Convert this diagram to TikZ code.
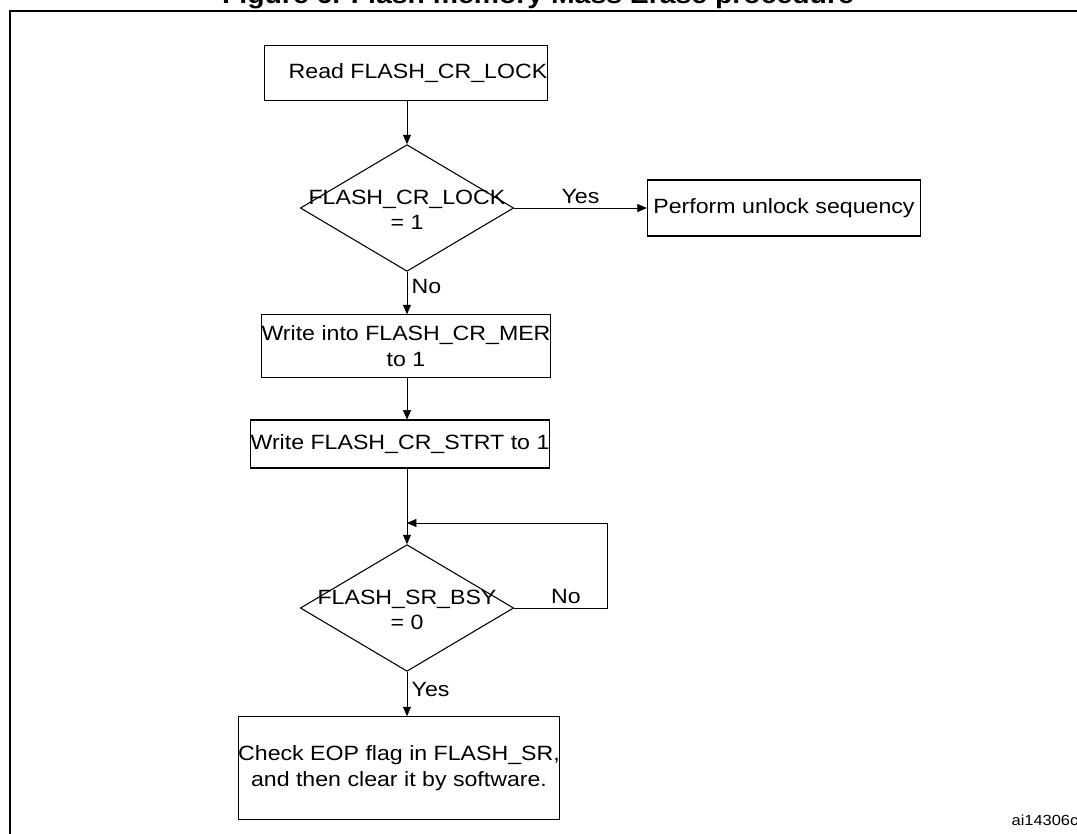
\documentclass[tikz,border=0pt]{standalone}
\usepackage{fontspec}
\setmainfont{Liberation Sans}[FakeStretch=1.12]
\usetikzlibrary{shapes.geometric, positioning, arrows.meta}
\tikzset{stepbox/.style={draw,thick,align=center,font=\fontsize{15.5}{19}\selectfont,inner sep=0pt},
         decision/.style={draw,thick,diamond,aspect=1.68,minimum width=160pt,minimum height=95pt,inner sep=0pt},
         inside/.style={align=center,font=\fontsize{15.5}{19}\selectfont,inner sep=0pt},
         flow/.style={-{Triangle[length=7pt,width=6pt]}},
         lbl/.style={font=\fontsize{15.5}{19}\selectfont},
        }
\begin{document}
\begin{tikzpicture}[x=0.75pt,y=-0.75pt]
        \useasboundingbox (0,0) rectangle (1077,833);
        \clip (0,0) rectangle (1077,833);
        \node[font=\bfseries\fontsize{19}{22}\selectfont](title)at(538,-3){Figure 6. Flash memory Mass Erase procedure};
        \draw[thick](10,11) rectangle (1080,840);
        \node[stepbox,minimum width=206pt,minimum height=41pt](read)at(406,73){\hspace{18pt}Read FLASH\_CR\_LOCK};
        \node[decision](lock)at(407,208){};
        \node[inside](locktext)at(407,210){FLASH\_CR\_LOCK\\= 1};
        \node[stepbox,minimum width=205pt,minimum height=42pt](unlock)at(784,208){Perform unlock sequency};
        \node[stepbox,minimum width=217pt,minimum height=47pt](mer)at(406,346){Write into FLASH\_CR\_MER\\to 1};
        \node[stepbox,minimum width=209pt,minimum height=36pt](strt)at(400,444){Write FLASH\_CR\_STRT to 1};
        \node[decision](bsy)at(407,608){};
        \node[inside](bsytext)at(407,610){FLASH\_SR\_BSY\\= 0};
        \node[stepbox,minimum width=211pt,minimum height=77pt](eop)at(399,768){Check EOP flag in FLASH\_SR,\\and then clear it by software.};
        \node[font=\fontsize{11}{13}\selectfont](ref)at(1045,820){ai14306c};
        \coordinate(loop)at(407,523);

        \draw[flow](read.south -| lock.north)--(lock.north);
        \draw[flow](lock.east)--node[lbl,above]{Yes}(unlock.west);
        \draw[flow](lock.south)--node[lbl,right,pos=0.35]{No}(lock.south |- mer.north);
        \draw[flow](mer.south -| lock.south)--(lock.south |- strt.north);
        \draw[flow](strt.south -| bsy.north)--(bsy.north);
        \draw[flow](bsy.east)--node[lbl,above,xshift=4pt]{No}(607,608)--(607,523)--(loop);
        \draw[flow](bsy.south)--node[lbl,right,pos=0.4]{Yes}(bsy.south |- eop.north);
    \end{tikzpicture}
\end{document}
